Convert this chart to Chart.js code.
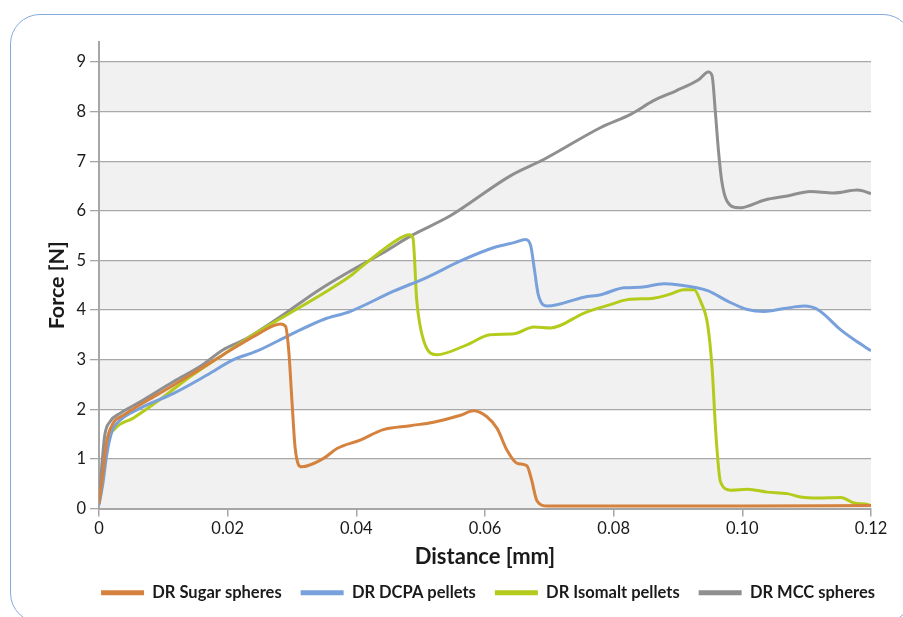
<!DOCTYPE html>
<html>
<head>
<meta charset="utf-8">
<script src="https://cdn.jsdelivr.net/npm/chart.js@4.4.0/dist/chart.umd.min.js"></script>
<style>
  html, body { margin: 0; padding: 0; background: #fff; overflow: hidden; }
  #wrap { position: relative; width: 903px; height: 617px; overflow: hidden; }
  #frame { position: absolute; left: 10px; top: 14px; width: 903px; height: 609px;
           border: 1.5px solid #86aade; border-radius: 30px; box-sizing: border-box; }
  #Chart { position: absolute; left: 0; top: 0; }
</style>
</head>
<body>
<div id="wrap">
  <div id="frame"></div>
  <canvas id="Chart" width="903" height="617"></canvas>
</div>
<script>
// tick labels / axis range
var xTicks = [0, 0.02, 0.04, 0.06, 0.08, 0.10, 0.12];
var yTicks = [0, 1, 2, 3, 4, 5, 6, 7, 8, 9];

var seriesNames = ['DR Sugar spheres', 'DR DCPA pellets', 'DR Isomalt pellets', 'DR MCC spheres'];
var seriesColors = ['#d5823f', '#78a1dc', '#b4cb1c', '#8f8f8f'];

// DR Sugar spheres
var sugarX = [0, 0.0006, 0.0012, 0.0022, 0.0038, 0.009, 0.0142, 0.0193, 0.0245, 0.0282, 0.029, 0.0295, 0.030, 0.0305, 0.0315,
  0.0349, 0.037, 0.0406, 0.0442, 0.0484, 0.052, 0.0562, 0.0582, 0.0603, 0.0619, 0.0634, 0.065, 0.0665, 0.0672, 0.0681, 0.0697,
  0.08, 0.10, 0.12];
var sugarY = [0.1, 0.7, 1.35, 1.72, 1.88, 2.29, 2.69, 3.1, 3.5, 3.72, 3.67, 3.17, 2.15, 1.21, 0.84,
  1.01, 1.21, 1.38, 1.59, 1.67, 1.74, 1.88, 1.97, 1.85, 1.61, 1.18, 0.91, 0.86, 0.6, 0.15, 0.05,
  0.05, 0.05, 0.06];

// DR DCPA pellets
var dcpaX = [0, 0.0006, 0.0012, 0.002, 0.0028, 0.0064, 0.0116, 0.0168, 0.0209, 0.0245, 0.0297, 0.0349, 0.039, 0.0458, 0.051,
  0.0562, 0.0614, 0.0645, 0.0663, 0.0671, 0.0677, 0.0683, 0.0697, 0.0754, 0.078, 0.0816, 0.0842, 0.0878, 0.0899, 0.0946,
  0.0977, 0.1008, 0.1034, 0.1065, 0.1096, 0.1117, 0.1153, 0.1174, 0.12];
var dcpaY = [0.07, 0.5, 1.08, 1.55, 1.72, 2.02, 2.32, 2.69, 3.0, 3.17, 3.5, 3.81, 3.97, 4.38, 4.66,
  4.99, 5.26, 5.36, 5.42, 5.3, 4.8, 4.3, 4.08, 4.26, 4.31, 4.45, 4.46, 4.53, 4.51, 4.39,
  4.18, 4.01, 3.97, 4.03, 4.08, 4.01, 3.6, 3.4, 3.18];

// DR Isomalt pellets
var isomaltX = [0, 0.0006, 0.0014, 0.0025, 0.0053, 0.009, 0.0142, 0.0193, 0.0245, 0.0297, 0.0349, 0.039, 0.0406, 0.0468,
  0.0482, 0.0488, 0.0494, 0.0505, 0.0525, 0.0572, 0.0608, 0.0645, 0.0676, 0.0702, 0.0754, 0.0795, 0.0821, 0.0862, 0.0888,
  0.0909, 0.0925, 0.0935, 0.0946, 0.0953, 0.0959, 0.0966, 0.0982, 0.1008, 0.1039, 0.107, 0.1091, 0.1117, 0.1153, 0.1174,
  0.1195, 0.12];
var isomaltY = [0.1, 0.6, 1.35, 1.61, 1.82, 2.15, 2.66, 3.1, 3.54, 3.94, 4.34, 4.68, 4.85, 5.45,
  5.52, 5.45, 4.18, 3.37, 3.1, 3.3, 3.5, 3.52, 3.66, 3.64, 3.94, 4.11, 4.21, 4.24, 4.32,
  4.41, 4.41, 4.18, 3.71, 2.83, 1.48, 0.54, 0.37, 0.39, 0.33, 0.3, 0.23, 0.21, 0.22, 0.11,
  0.08, 0.05];

// DR MCC spheres
var mccX = [0, 0.0004, 0.0009, 0.0017, 0.0033, 0.0064, 0.0116, 0.0157, 0.0193, 0.023, 0.0287, 0.0339, 0.039, 0.0441,
  0.0484, 0.0546, 0.064, 0.0692, 0.078, 0.0827, 0.0862, 0.0897, 0.0932, 0.0947, 0.0953, 0.0958, 0.0963, 0.0968, 0.0976,
  0.0995, 0.1035, 0.107, 0.1106, 0.1142, 0.1179, 0.12];
var mccY = [0.1, 0.8, 1.48, 1.75, 1.92, 2.15, 2.56, 2.86, 3.2, 3.43, 3.91, 4.38, 4.78, 5.15,
  5.49, 5.9, 6.71, 7.04, 7.68, 7.95, 8.22, 8.42, 8.64, 8.8, 8.72, 8.0, 7.2, 6.6, 6.2,
  6.06, 6.22, 6.3, 6.39, 6.36, 6.42, 6.35];

function toPoints(xs, ys) {
  return xs.map(function (x, i) { return { x: x, y: ys[i] }; });
}

var allX = [sugarX, dcpaX, isomaltX, mccX];
var allY = [sugarY, dcpaY, isomaltY, mccY];

var datasets = seriesNames.map(function (name, i) {
  return {
    label: name,
    data: toPoints(allX[i], allY[i]),
    borderColor: seriesColors[i],
    backgroundColor: seriesColors[i],
    borderWidth: 3,
    pointRadius: 0,
    showLine: true,
    fill: false,
    cubicInterpolationMode: 'monotone'
  };
});

// grey bands between 0-1, 2-3, ... , the short axis stub above 9, legend nudge
var bands = {
  id: 'bands',
  afterLayout: function (chart) {
    var lg = chart.legend;
    if (!lg) return;
    var dx = 488 - (lg.left + lg.right) / 2;
    lg.left += dx;
    lg.right += dx;
  },
  beforeDraw: function (chart) {
    var ctx = chart.ctx, a = chart.chartArea, y = chart.scales.y;
    ctx.save();
    ctx.fillStyle = '#f1f1f1';
    for (var v = 0; v < yTicks[yTicks.length - 1]; v += 2) {
      var top = y.getPixelForValue(v + 1), bot = y.getPixelForValue(v);
      ctx.fillRect(a.left, top, a.right - a.left, bot - top);
    }
    ctx.restore();
  },
  afterDraw: function (chart) {
    var ctx = chart.ctx, a = chart.chartArea;
    ctx.save();
    ctx.strokeStyle = '#a6a6a6';
    ctx.lineWidth = 2;
    ctx.beginPath();
    ctx.moveTo(a.left, a.top - 21);
    ctx.lineTo(a.left, a.top);
    ctx.stroke();
    ctx.restore();
  }
};

var ctx = document.getElementById('Chart').getContext('2d');
var chart = new Chart(ctx, {
  type: 'scatter',
  data: { datasets: datasets },
  plugins: [bands],
  options: {
    responsive: false,
    animation: false,
    devicePixelRatio: 1,
    layout: { padding: { top: 62, left: 10, right: 32, bottom: 6 } },
    plugins: {
      tooltip: { enabled: false },
      legend: {
        position: 'bottom',
        labels: {
          boxWidth: 43,
          boxHeight: 5,
          padding: 19,
          color: '#1a1a1a',
          font: { family: 'Lato', size: 16.5, weight: 'bold' },
          generateLabels: function (c) {
            var items = Chart.defaults.plugins.legend.labels.generateLabels(c);
            items.forEach(function (it) { it.lineWidth = 0; it.strokeStyle = 'transparent'; });
            return items;
          }
        }
      }
    },
    scales: {
      x: {
        type: 'linear',
        min: xTicks[0],
        max: xTicks[xTicks.length - 1],
        afterBuildTicks: function (s) { s.ticks = xTicks.map(function (v) { return { value: v }; }); },
        afterFit: function (s) { s.height = 57; },
        border: { color: '#a6a6a6', width: 2 },
        grid: { drawOnChartArea: false, drawTicks: true, tickLength: 8, tickColor: '#a6a6a6', lineWidth: 1.5 },
        ticks: {
          padding: 2,
          color: '#1a1a1a',
          font: { family: 'Lato', size: 16.5 },
          maxRotation: 0,
          callback: function (v) { return v === 0 ? '0' : Number(v).toFixed(2); }
        },
        title: {
          display: true,
          text: 'Distance [mm]',
          color: '#1a1a1a',
          font: { family: 'Lato', size: 22, weight: 'bold', lineHeight: 1 },
          padding: { top: 0, bottom: -2 }
        }
      },
      y: {
        type: 'linear',
        min: yTicks[0],
        max: yTicks[yTicks.length - 1],
        afterBuildTicks: function (s) { s.ticks = yTicks.map(function (v) { return { value: v }; }); },
        afterFit: function (s) { s.width = 89; },
        border: { color: '#a6a6a6', width: 2 },
        grid: { color: '#a8a8a8', lineWidth: 1.3, tickLength: 9, tickColor: '#a6a6a6' },
        ticks: {
          padding: 4,
          color: '#1a1a1a',
          font: { family: 'Lato', size: 16.5 }
        },
        title: {
          display: true,
          text: 'Force [N]',
          color: '#1a1a1a',
          font: { family: 'Lato', size: 21.5, weight: 'bold', lineHeight: 1 },
          padding: { top: 36, bottom: 0 }
        }
      }
    }
  }
});
</script>
</body>
</html>
